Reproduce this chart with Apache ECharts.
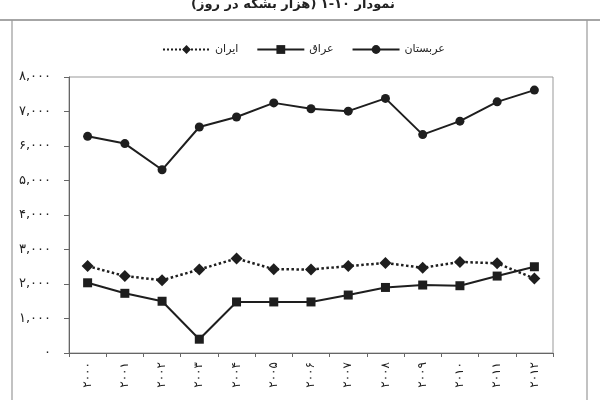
<!DOCTYPE html>
<html>
<head>
<meta charset="utf-8">
<script src="https://cdn.jsdelivr.net/npm/echarts@6/dist/echarts.min.js"></script>
<style>html,body{margin:0;padding:0;background:#fff}#c{width:600px;height:400px}</style>
</head>
<body>
<div id="c"></div>
<script>
const years = ['۲۰۰۰','۲۰۰۱','۲۰۰۲','۲۰۰۳','۲۰۰۴','۲۰۰۵','۲۰۰۶','۲۰۰۷','۲۰۰۸','۲۰۰۹','۲۰۱۰','۲۰۱۱','۲۰۱۲'];
const iran   = [2520, 2230, 2110, 2420, 2740, 2430, 2420, 2520, 2610, 2470, 2640, 2600, 2160];
const iraq   = [2035, 1730, 1500, 400, 1480, 1480, 1480, 1680, 1900, 1970, 1950, 2230, 2500];
const saudi  = [6280, 6070, 5310, 6550, 6840, 7250, 7080, 7010, 7380, 6330, 6720, 7280, 7620];
const yTickLabels = ['۰','۱,۰۰۰','۲,۰۰۰','۳,۰۰۰','۴,۰۰۰','۵,۰۰۰','۶,۰۰۰','۷,۰۰۰','۸,۰۰۰'];
const seriesNames = ['ایران','عراق','عربستان'];
const titleText = 'نمودار ۱۰-۱ (هزار بشکه در روز)';

const font = 'DejaVu Sans';
const ink = '#1e1e1e';
const chart = echarts.init(document.getElementById('c'), null, {renderer:'canvas'});
chart.setOption({
  backgroundColor: '#fff',
  animation: false,
  textStyle: {fontFamily: font},
  title: {
    text: titleText, left: 288, top: -7, textAlign: 'center',
    textStyle: {fontFamily: font, fontSize: 13, fontWeight: 'bold', color: '#222'}
  },
  graphic: [
    {type:'line', shape:{x1:0,y1:20,x2:600,y2:20}, style:{stroke:'#888',lineWidth:1.5}, silent:true},
    {type:'line', shape:{x1:12,y1:20,x2:12,y2:400}, style:{stroke:'#999',lineWidth:1.2}, silent:true},
    {type:'line', shape:{x1:587,y1:20,x2:587,y2:400}, style:{stroke:'#999',lineWidth:1.2}, silent:true}
  ],
  legend: {
    data: seriesNames,
    left: 157, top: 39,
    itemWidth: 47, itemHeight: 11, itemGap: 18,
    textStyle: {fontFamily: font, fontSize: 11, color: '#222'}
  },
  grid: {left: 69, right: 47, top: 77, bottom: 47, show: true, borderColor: '#999', borderWidth: 1},
  xAxis: {
    type: 'category', data: years, boundaryGap: true,
    axisLine: {lineStyle: {color: '#666', width: 1}},
    axisTick: {show: true, length: 4, lineStyle: {color: '#666'}},
    axisLabel: {rotate: 90, fontSize: 12, color: '#222', margin: 9, fontFamily: font}
  },
  yAxis: {
    type: 'value', min: 0, max: 8000, interval: 1000,
    splitLine: {show: false},
    axisLine: {show: true, lineStyle: {color: '#666', width: 1}},
    axisTick: {show: true, length: 5, lineStyle: {color: '#666'}},
    axisLabel: {fontSize: 13, color: '#222', margin: 18, fontFamily: font,
      formatter: (v) => yTickLabels[Math.round(v/1000)]}
  },
  series: [
    {name: seriesNames[0], type: 'line', data: iran, symbol: 'diamond', symbolSize: 12,
      itemStyle: {color: ink}, lineStyle: {color: ink, width: 2.5, type: 'dotted'}, z: 3},
    {name: seriesNames[1], type: 'line', data: iraq, symbol: 'rect', symbolSize: 9,
      itemStyle: {color: ink}, lineStyle: {color: ink, width: 2}, z: 2},
    {name: seriesNames[2], type: 'line', data: saudi, symbol: 'circle', symbolSize: 9,
      itemStyle: {color: ink}, lineStyle: {color: ink, width: 2}, z: 2}
  ]
});
</script>
</body>
</html>
